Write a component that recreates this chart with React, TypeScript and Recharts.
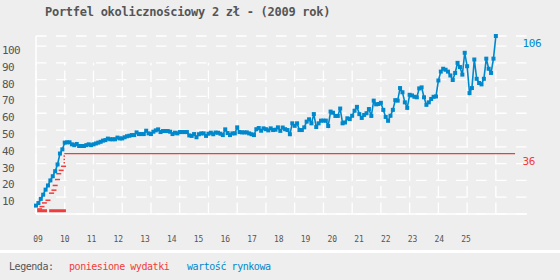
import React from 'react';
import { LineChart, Line, XAxis, YAxis, CartesianGrid, ReferenceLine } from 'recharts';

const MONO = '"DejaVu Sans Mono", "Liberation Mono", monospace';
const BLUE = '#0088cc';
const RED = '#f03c3c';
const TEXT = '#555555';

const title = 'Portfel okolicznościowy 2 zł - (2009 rok)';
const yearLabels = ['09', '10', '11', '12', '13', '14', '15', '16', '17', '18', '19', '20', '21', '22', '23', '24', '25'];
const yTicks = [10, 20, 30, 40, 50, 60, 70, 80, 90, 100];

// wartość rynkowa, one value per month from Jan 2009
const marketValues = [
  5, 6.5, 9, 11.5, 14.5, 17, 20, 22.5, 25.5, 29.5, 36, 38.5,
  42.5, 42.7, 42.7, 41.5, 41, 41.7, 40.5, 40.5, 40.5, 41, 41.5, 41,
  41.5, 42, 42.5, 43, 43.7, 44, 44.9, 44.5, 44.5, 44.5, 45.5, 45,
  45, 45.7, 46.3, 46.6, 47, 47, 48.6, 47.6, 47.6, 47.6, 49.6, 48,
  47.6, 49, 49.8, 50.4, 48.8, 49.4, 49.4, 49.4, 49, 47.6, 48.4, 48,
  48.8, 48.8, 48.8, 48.8, 46.8, 46.5, 47.6, 45.7, 47.5, 48, 48, 46.5,
  47.8, 48.4, 47.5, 48.5, 48.4, 47.8, 47, 50.4, 48.2, 47, 48, 48,
  51.6, 48.8, 48.6, 48.6, 48.6, 48, 47.5, 47, 50.5, 51.2, 49.6, 51,
  50.5, 49.8, 51, 50, 50.2, 51.6, 49.5, 51.5, 50.5, 50, 47.5, 54,
  52.5, 54, 50, 50, 51.6, 55, 56.4, 54, 59.5, 51.8, 54, 55.6,
  55.6, 55.6, 52.4, 61, 60.3, 58.4, 58.4, 62.8, 54, 54.5, 57, 56.5,
  58.5, 61.5, 63.8, 59.5, 57.2, 59, 60, 62.5, 58.4, 67.5, 65.3, 65.5,
  66.2, 62, 57.8, 55.5, 58.5, 62, 67.8, 67.5, 75, 72.5, 66.5, 63.2,
  71, 70.6, 69.8, 69.5, 74.8, 75.4, 69.5, 65, 66.5, 68.5, 69.8, 70,
  79.5, 84.8, 86.5, 85.9, 84.8, 82.5, 79.8, 84, 90, 87.5, 83, 96,
  88, 72, 75, 92, 80.5, 78, 77.2, 80.5, 92.5, 86.5, 84, 92.5,
  106,
];

// poniesione wydatki: purchases during 2009 (month, total cost so far)
const buyMonths = [1.5, 2.5, 3.5, 5, 6.5, 7.5, 8, 9, 9.5, 10.5, 11.5];
const buyValues = [3, 4.4, 6.6, 8.2, 12.4, 14.2, 17, 20.5, 24, 26, 28.4];
const buyDotMonths = [11.8, 11.8, 11.8];
const buyDotValues = [30.5, 32.5, 34.5];
// total cost afterwards
const costMonths = [11.8, 200];
const costValues = [36, 36];

// nominal value marks at the bottom
const baseMonths = [0.5, 4.6, 5, 5.5, 12.5];
const baseValues = [2, 2, null, 2, 2];

const X_MAX = 205;
const VGRID_TOP = 90;

const marketData = marketValues.map((v, m) => ({ m, v }));
const buyData = buyMonths.map((m, i) => ({ m, v: buyValues[i] }));
const buyDotData = buyDotMonths.map((m, i) => ({ m, v: buyDotValues[i] }));
const costData = costMonths.map((m, i) => ({ m, v: costValues[i] }));
const baseData = baseMonths.map((m, i) => ({ m, v: baseValues[i] }));
const yearTicks = yearLabels.map((_, k) => k * 12);
const lastMarket = marketValues[marketValues.length - 1];
const lastCost = costValues[costValues.length - 1];

const LeftTick = (props: any) => {
  const { y, payload } = props;
  return (
    <text x={2} y={y + 8} fill={TEXT} fontSize={11} fontFamily={MONO} letterSpacing={-0.6}>
      {payload.value}
    </text>
  );
};

const RightTick = (props: any) => {
  const { y, payload } = props;
  const color = payload.value === lastMarket ? BLUE : RED;
  return (
    <text x={522.5} y={y + 11} fill={color} fontSize={11} fontFamily={MONO} letterSpacing={-0.4}>
      {payload.value}
    </text>
  );
};

// year labels sit on their own, slightly tighter spacing than the grid
const YearTick = (props: any) => {
  const { payload } = props;
  const k = Math.round(payload.value / 12);
  return (
    <text x={38 + k * 26.75} y={242} textAnchor="middle" fill={TEXT} fontSize={8} fontFamily={MONO}>
      {yearLabels[k]}
    </text>
  );
};

const SquareDot = (props: any) => {
  const { cx, cy, index } = props;
  if (cx == null || cy == null) return null;
  return <rect key={index} x={cx - 2} y={cy - 2} width={4} height={4} fill={BLUE} />;
};

const DashDot = (props: any) => {
  const { cx, cy, index } = props;
  if (cx == null || cy == null) return null;
  return <rect key={index} x={cx - 2.5} y={cy - 0.75} width={5} height={1.5} fill={RED} />;
};

const TinyDot = (props: any) => {
  const { cx, cy, index } = props;
  if (cx == null || cy == null) return null;
  return <rect key={index} x={cx - 0.75} y={cy - 0.75} width={1.5} height={1.5} fill={RED} />;
};

export default function App() {
  return (
    <div
      style={{
        position: 'absolute',
        left: 0,
        top: 0,
        width: 560,
        height: 280,
        background: '#eeeeee',
        fontFamily: MONO,
        overflow: 'hidden',
      }}
    >
      <div
        style={{
          position: 'absolute',
          left: 45,
          top: 5,
          fontSize: 12,
          lineHeight: '14px',
          fontWeight: 'bold',
          letterSpacing: -0.27,
          color: TEXT,
          whiteSpace: 'pre',
        }}
      >
        {title}
      </div>

      <LineChart width={560} height={250} margin={{ top: 36, right: 0, bottom: 0, left: 0 }}>
        <CartesianGrid stroke="#ffffff" strokeWidth={1.3} strokeDasharray="10.5 9.5" vertical={false} />
        {yearTicks.map((t) => (
          <ReferenceLine
            key={t}
            segment={[{ x: t, y: 0 }, { x: t, y: VGRID_TOP }]}
            stroke="#ffffff"
            strokeWidth={1.3}
            strokeDasharray="11.5 5"
          />
        ))}
        <XAxis
          dataKey="m"
          type="number"
          domain={[0, X_MAX]}
          ticks={yearTicks}
          height={36}
          axisLine={{ stroke: '#ffffff', strokeWidth: 1.5 }}
          tickLine={false}
          tickSize={0}
          tickMargin={0}
          tick={<YearTick />}
          interval={0}
        />
        <YAxis
          type="number"
          domain={[0, lastMarket]}
          ticks={yTicks}
          width={36}
          axisLine={{ stroke: '#ffffff', strokeWidth: 1.5 }}
          tickLine={false}
          tick={<LeftTick />}
          interval={0}
        />
        <YAxis
          yAxisId="right"
          orientation="right"
          type="number"
          domain={[0, lastMarket]}
          ticks={[lastCost, lastMarket]}
          width={33}
          axisLine={false}
          tickLine={false}
          tickSize={0}
          tickMargin={0}
          tick={<RightTick />}
          interval={0}
        />
        <Line
          yAxisId="right"
          data={baseData}
          dataKey="v"
          type="linear"
          stroke={RED}
          strokeWidth={3}
          dot={false}
          connectNulls={false}
          isAnimationActive={false}
        />
        <Line
          yAxisId="right"
          data={buyData}
          dataKey="v"
          stroke="none"
          dot={<DashDot />}
          isAnimationActive={false}
        />
        <Line
          yAxisId="right"
          data={buyDotData}
          dataKey="v"
          stroke="none"
          dot={<TinyDot />}
          isAnimationActive={false}
        />
        <Line
          yAxisId="right"
          data={costData}
          dataKey="v"
          type="linear"
          stroke={RED}
          strokeWidth={1.2}
          dot={false}
          isAnimationActive={false}
        />
        <Line
          data={marketData}
          dataKey="v"
          type="linear"
          stroke={BLUE}
          strokeWidth={1.6}
          dot={<SquareDot />}
          isAnimationActive={false}
        />
      </LineChart>

      <div style={{ position: 'absolute', left: 0, top: 250, width: 560, height: 3, background: '#ffffff' }} />

      <div
        style={{
          position: 'absolute',
          left: 0,
          top: 261,
          width: 560,
          fontSize: 10,
          lineHeight: '12px',
          letterSpacing: -0.45,
          whiteSpace: 'pre',
        }}
      >
        <span style={{ position: 'absolute', left: 9, color: TEXT }}>Legenda:</span>
        <span style={{ position: 'absolute', left: 69, color: RED }}>poniesione wydatki</span>
        <span style={{ position: 'absolute', left: 187, color: BLUE }}>wartość rynkowa</span>
      </div>
    </div>
  );
}
